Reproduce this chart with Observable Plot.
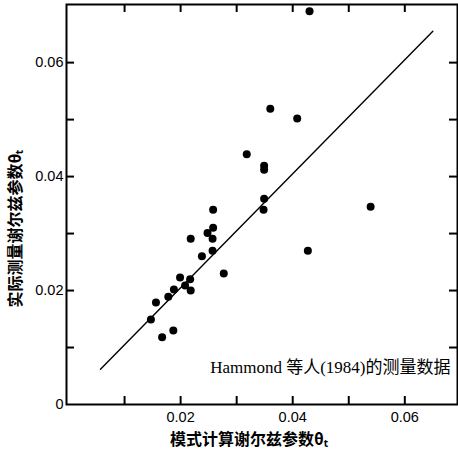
<!DOCTYPE html>
<html><head><meta charset="utf-8">
<script src="https://cdn.jsdelivr.net/npm/d3@7"></script>
<script src="https://cdn.jsdelivr.net/npm/@observablehq/plot@0.6"></script>
<style>
html,body{margin:0;padding:0;background:#fff;}
</style>
</head><body>
<div id="chart"></div>
<script>
// measured points: model-computed Shields parameter (x) vs measured (y)
const pointX = [0.0430,0.0360,0.0408,0.0318,0.0349,0.0349,0.0349,0.0348,0.0539,0.0427,
                0.0258,0.0258,0.0248,0.0257,0.0218,0.0257,0.0238,0.0277,0.0199,0.0217,
                0.0208,0.0218,0.0188,0.0178,0.0156,0.0147,0.0187,0.0167];
const pointY = [0.0690,0.0519,0.0502,0.0439,0.0419,0.0412,0.0361,0.0342,0.0347,0.0270,
                0.0342,0.0310,0.0301,0.0291,0.0291,0.0270,0.0260,0.0230,0.0223,0.0220,
                0.0209,0.0200,0.0202,0.0189,0.0179,0.0149,0.0130,0.0118];
// 1:1 reference line
const lineX = [0.0057, 0.0650];
const lineY = [0.0062, 0.0655];
// ticks
const majorXTicks = [0.02, 0.04, 0.06];
const majorYTicks = [0, 0.02, 0.04, 0.06];
const allTicks = [0.01, 0.02, 0.03, 0.04, 0.05, 0.06];
const xTitle = "模式计算谢尔兹参数θₜ";
const yTitle = "实际测量谢尔兹参数θₜ";
const note = "Hammond 等人(1984)的测量数据";

const points = pointX.map((x, i) => ({x, y: pointY[i]}));
const line = lineX.map((x, i) => ({x, y: lineY[i]}));

const W = 458, H = 454, mt = 4, mb = 50, ml = 66, mr = 1;
const xDom = [-0.00036, 0.0694], yDom = [0, 0.0702];
const tl = 8; // tick length in px
const xTL = tl * (xDom[1] - xDom[0]) / (W - ml - mr);
const yTL = tl * (yDom[1] - yDom[0]) / (H - mt - mb);

const chart = Plot.plot({
  width: W, height: H,
  marginLeft: ml, marginRight: mr, marginTop: mt, marginBottom: mb,
  style: {fontFamily: "'Liberation Sans', sans-serif", fontSize: "14px", color: "#000", background: "#fff"},
  x: {domain: xDom},
  y: {domain: yDom},
  marks: [
    Plot.axisX({ticks: majorXTicks, tickSize: 0, tickPadding: 7, label: null, tickFormat: d => d.toFixed(2), fontSize: 14.5}),
    Plot.axisY({ticks: majorYTicks, tickSize: 0, tickPadding: 3, label: null, tickFormat: d => d === 0 ? "0" : d.toFixed(2), fontSize: 14.5}),
    Plot.ruleX(allTicks, {x: d => d, y1: yDom[0], y2: yDom[0] + yTL, stroke: "#000", strokeWidth: 2}),
    Plot.ruleX(allTicks, {x: d => d, y1: yDom[1], y2: yDom[1] - yTL, stroke: "#000", strokeWidth: 2}),
    Plot.ruleY(allTicks, {y: d => d, x1: xDom[0], x2: xDom[0] + xTL, stroke: "#000", strokeWidth: 2}),
    Plot.ruleY(allTicks, {y: d => d, x1: xDom[1], x2: xDom[1] - xTL, stroke: "#000", strokeWidth: 2}),
    Plot.line(line, {x: "x", y: "y", stroke: "#000", strokeWidth: 1.4}),
    Plot.dot(points, {x: "x", y: "y", r: 4, fill: "#000", stroke: "none"}),
    Plot.text([note], {text: d => d, frameAnchor: "bottom-right", dx: -7, dy: -32, textAnchor: "end",
      fontFamily: "'Liberation Serif', 'Noto Sans CJK SC', serif", fontSize: 17, fill: "#000"}),
    Plot.text([xTitle], {text: d => d, frameAnchor: "bottom", dy: 40, dx: -13, textAnchor: "middle",
      fontFamily: "'Noto Sans CJK SC', sans-serif", fontWeight: "bold", fontSize: 16, fill: "#000"}),
    Plot.text([yTitle], {text: d => d, frameAnchor: "left", dx: -51, dy: 24, rotate: -90, textAnchor: "middle",
      fontFamily: "'Noto Sans CJK SC', sans-serif", fontWeight: "bold", fontSize: 16, fill: "#000"}),
    Plot.frame({stroke: "#000", strokeWidth: 2})
  ]
});
document.getElementById("chart").appendChild(chart);
</script>
</body></html>
